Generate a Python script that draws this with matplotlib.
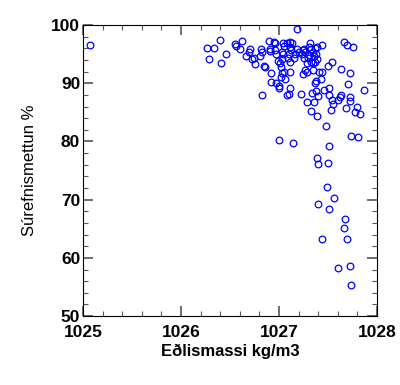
import matplotlib.pyplot as plt
from matplotlib.ticker import MultipleLocator

# Density (kg/m3) and oxygen saturation (%)
density = [
    1025.07, 1026.27, 1026.34, 1026.40, 1026.29, 1026.41, 1026.46, 1026.55, 1026.56, 1026.62,
    1026.60, 1026.70, 1026.69, 1026.66, 1026.72, 1026.74, 1026.75, 1026.82, 1026.83, 1026.81,
    1026.85, 1026.86, 1026.83, 1026.90, 1026.91, 1026.91, 1026.95, 1026.96, 1026.96, 1026.97,
    1026.99, 1026.92, 1026.92, 1026.97, 1027.00, 1027.00, 1027.02, 1027.03, 1027.05, 1027.06,
    1027.04, 1027.05, 1027.03, 1027.04, 1027.03, 1027.01, 1027.02, 1027.08, 1027.11, 1027.13,
    1027.11, 1027.12, 1027.10, 1027.09, 1027.15, 1027.11, 1027.16, 1027.18, 1027.20, 1027.18,
    1027.11, 1027.11, 1027.10, 1027.08, 1027.22, 1027.24, 1027.26, 1027.27, 1027.23, 1027.25,
    1027.32, 1027.31, 1027.33, 1027.35, 1027.37, 1027.39, 1027.44, 1027.36, 1027.38, 1027.39,
    1027.33, 1027.37, 1027.29, 1027.35, 1027.31, 1027.30, 1027.24, 1027.27, 1027.29, 1027.35,
    1027.41, 1027.44, 1027.38, 1027.37, 1027.43, 1027.34, 1027.38, 1027.40, 1027.46, 1027.51,
    1027.51, 1027.54, 1027.55, 1027.60, 1027.62, 1027.63, 1027.72, 1027.72, 1027.68, 1027.80,
    1027.78, 1027.83, 1027.53, 1027.29, 1027.36, 1027.33, 1027.39, 1027.48, 1027.50, 1027.54,
    1027.63, 1027.72, 1027.70, 1027.87, 1027.66, 1027.69, 1027.75, 1027.73, 1027.81, 1027.51,
    1027.00, 1027.14, 1027.39, 1027.40, 1027.50, 1027.49, 1027.56, 1027.40, 1027.51, 1027.67,
    1027.66, 1027.44, 1027.69, 1027.60, 1027.72, 1027.73,
]
saturation = [
    96.5, 96.1, 96.1, 97.4, 94.2, 93.4, 95.0, 96.7, 96.4, 97.3,
    95.8, 95.9, 95.4, 94.6, 94.2, 94.3, 93.3, 95.8, 95.4, 94.7,
    93.0, 92.8, 87.9, 97.2, 95.8, 95.5, 97.1, 96.9, 95.7, 95.1,
    93.8, 91.8, 90.2, 90.0, 89.5, 89.1, 91.1, 91.7, 92.0, 90.7,
    96.9, 96.4, 95.4, 95.0, 94.2, 93.4, 92.8, 96.9, 97.0, 96.9,
    96.3, 95.7, 95.1, 94.4, 94.4, 93.6, 95.1, 95.8, 95.4, 99.3,
    92.0, 89.1, 88.1, 88.0, 88.2, 95.7, 95.8, 95.3, 95.0, 94.4,
    96.9, 96.3, 95.8, 95.4, 96.0, 96.2, 96.5, 94.6, 95.1, 94.1,
    93.7, 93.6, 93.5, 93.5, 94.9, 94.3, 91.6, 92.2, 91.9, 92.2,
    92.0, 91.9, 90.4, 90.0, 90.8, 88.4, 88.7, 87.8, 88.8, 89.2,
    88.0, 87.1, 86.5, 87.1, 87.7, 88.0, 87.6, 86.9, 85.7, 86.0,
    85.1, 84.7, 85.4, 86.7, 86.7, 85.3, 84.3, 82.7, 93.0, 93.7,
    92.5, 91.7, 89.9, 88.8, 97.0, 96.5, 96.2, 81.0, 80.8, 79.3,
    80.3, 79.8, 77.1, 76.2, 76.3, 72.2, 70.2, 69.2, 68.4, 66.6,
    65.1, 63.3, 63.2, 58.3, 58.6, 55.4,
]

plt.rcParams['font.family'] = ['Liberation Sans', 'DejaVu Sans']

fig = plt.figure(figsize=(4, 3.85), dpi=100)
ax = fig.add_axes([0.2075, 0.179, 0.735, 0.756])

ax.plot(density, saturation, 'o', mfc='none', mec='blue', ms=4.8, mew=0.9)

ax.set_xlim(1025, 1028)
ax.set_ylim(50, 100)
ax.xaxis.set_major_locator(MultipleLocator(1))
ax.xaxis.set_minor_locator(MultipleLocator(0.2))
ax.yaxis.set_major_locator(MultipleLocator(10))
ax.yaxis.set_minor_locator(MultipleLocator(2))
ax.tick_params(which='both', direction='in', top=True, right=True, labelsize=12.5)
ax.tick_params(axis='x', which='major', pad=6.5)
ax.tick_params(axis='y', which='major', pad=2)
ax.tick_params(which='major', length=7, width=1.2, color='#555555')
ax.tick_params(which='minor', length=3.5, width=0.8, color='#555555')
for lab in ax.get_xticklabels() + ax.get_yticklabels():
    lab.set_fontweight('bold')

ax.set_xlabel('Eðlismassi kg/m3', fontsize=12, fontweight='bold', labelpad=3)
ax.set_ylabel('Súrefnismettun %', fontsize=12, labelpad=10)

fig.savefig('out.png', dpi=100)
